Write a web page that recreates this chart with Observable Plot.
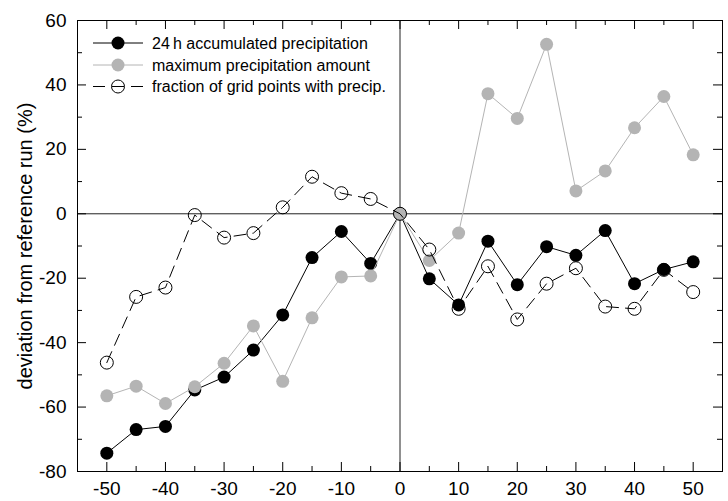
<!DOCTYPE html>
<html>
<head>
<meta charset="utf-8">
<script src="https://cdn.jsdelivr.net/npm/d3@7"></script>
<script src="https://cdn.jsdelivr.net/npm/@observablehq/plot@0.6"></script>
<style>
  html, body { margin: 0; padding: 0; background: #fff; }
  #chart svg { display: block; font-family: "Liberation Sans", Arial, sans-serif; }
</style>
</head>
<body>
<div id="chart"></div>
<script>
// ---- data ----
const offsets = [-50,-45,-40,-35,-30,-25,-20,-15,-10,-5,0,5,10,15,20,25,30,35,40,45,50];
const accumulated = [-74.3,-67,-66,-54.7,-50.7,-42.3,-31.4,-13.6,-5.5,-15.4,0,-20.2,-28.3,-8.5,-22,-10.2,-12.9,-5.2,-21.7,-17.3,-14.9];
const maxAmount = [-56.5,-53.5,-58.9,-53.7,-46.4,-34.8,-52,-32.3,-19.6,-19.3,0,-14.5,-6,37.3,29.6,52.6,7.1,13.3,26.7,36.4,18.3];
const fraction = [-46.2,-25.8,-22.9,-0.4,-7.4,-6,2,11.5,6.4,4.6,0,-11.1,-29.5,-16.3,-32.8,-21.7,-16.9,-28.8,-29.5,-17.4,-24.3];

const xMajor = [-50,-40,-30,-20,-10,0,10,20,30,40,50];
const xMinor = [-45,-35,-25,-15,-5,5,15,25,35,45];
const yMajor = [-80,-60,-40,-20,0,20,40,60];
const yMinor = [-70,-50,-30,-10,10,30,50];
const seriesNames = ["24\u2009h accumulated precipitation", "maximum precipitation amount", "fraction of grid points with precip."];
const yLabel = "deviation from reference run (%)";

const rows = (vals) => offsets.map((x, i) => ({x, y: vals[i]}));
const A = rows(accumulated), M = rows(maxAmount), F = rows(fraction);

const W = 728, H = 501;
const mL = 77, mR = 6, mT = 20, mB = 30;
const innerH = H - mT - mB, innerW = W - mL - mR;
const GREY = "#b4b4b4";
const R = 6.5;

const plot = Plot.plot({
  width: W, height: H,
  marginLeft: mL, marginRight: mR, marginTop: mT, marginBottom: mB,
  style: {fontFamily: "'Liberation Sans', Arial, sans-serif", background: "#fff"},
  x: {domain: [-55, 55]},
  y: {domain: [-80, 60]},
  marks: [
    // zero lines
    Plot.ruleY([0], {stroke: "#222", strokeWidth: 1}),
    Plot.ruleX([0], {stroke: "#222", strokeWidth: 1}),
    // inward ticks: bottom & top
    Plot.tickX(xMajor, {x: d => d, insetTop: innerH - 9, stroke: "#000"}),
    Plot.tickX(xMinor, {x: d => d, insetTop: innerH - 5, stroke: "#000"}),
    Plot.tickX(xMajor, {x: d => d, insetBottom: innerH - 9, stroke: "#000"}),
    Plot.tickX(xMinor, {x: d => d, insetBottom: innerH - 5, stroke: "#000"}),
    // inward ticks: left & right
    Plot.tickY(yMajor, {y: d => d, insetRight: innerW - 9, stroke: "#000"}),
    Plot.tickY(yMinor, {y: d => d, insetRight: innerW - 5, stroke: "#000"}),
    Plot.tickY(yMajor, {y: d => d, insetLeft: innerW - 9, stroke: "#000"}),
    Plot.tickY(yMinor, {y: d => d, insetLeft: innerW - 5, stroke: "#000"}),
    // axes labels
    Plot.axisX({ticks: xMajor, tickSize: 0, tickPadding: 10, fontSize: 19, label: null, tickFormat: d => String(d)}),
    Plot.axisY({ticks: yMajor, tickSize: 0, tickPadding: 11, fontSize: 19, label: null, tickFormat: d => String(d)}),
    Plot.text([yLabel], {frameAnchor: "left", text: d => d, rotate: -90, dx: -52, textAnchor: "middle", fontSize: 20, fill: "#000"}),
    // series 1: black
    Plot.line(A, {x: "x", y: "y", stroke: "#000", strokeWidth: 1}),
    Plot.dot(A, {x: "x", y: "y", r: R, fill: "#000", stroke: "none"}),
    // series 2: grey
    Plot.line(M, {x: "x", y: "y", stroke: GREY, strokeWidth: 1}),
    Plot.dot(M, {x: "x", y: "y", r: R, fill: GREY, stroke: "none"}),
    // series 3: dashed with open circles
    Plot.line(F, {x: "x", y: "y", stroke: "#000", strokeWidth: 1, strokeDasharray: "12,7"}),
    Plot.dot(F, {x: "x", y: "y", r: R, fill: "none", stroke: "#000", strokeWidth: 1}),
    Plot.frame({stroke: "#000", strokeWidth: 1})
  ]
});

// legend (inside the plot, top-left)
const svg = d3.select(plot);
const lg = svg.append("g").attr("class", "legend").attr("text-anchor", "start");
const legendRows = [
  {y: 43, stroke: "#000", fill: "#000", dash: null, ring: false},
  {y: 65, stroke: GREY, fill: GREY, dash: null, ring: false},
  {y: 86.5, stroke: "#000", fill: "none", dash: "12,7", ring: true}
];
legendRows.forEach((r, i) => {
  lg.append("line").attr("x1", 93).attr("x2", 143).attr("y1", r.y).attr("y2", r.y)
    .attr("stroke", r.stroke).attr("stroke-width", 1).attr("stroke-dasharray", r.dash);
  lg.append("circle").attr("cx", 118).attr("cy", r.y).attr("r", R)
    .attr("fill", r.fill).attr("stroke", r.ring ? "#000" : "none");
  lg.append("text").attr("x", 152).attr("y", r.y).attr("dy", "0.35em")
    .attr("text-anchor", "start").attr("font-size", 16).attr("fill", "#000").text(seriesNames[i]);
});

document.getElementById("chart").appendChild(plot);
</script>
</body>
</html>
